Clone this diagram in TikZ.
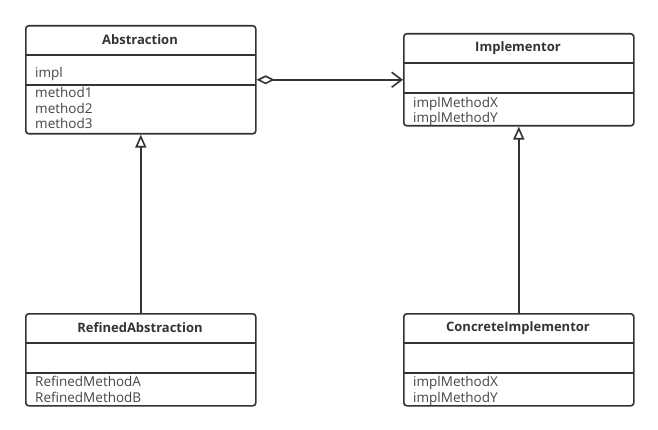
\documentclass[tikz,border=0pt]{standalone}
\usepackage{fontspec}
\setmainfont{Open Sans}
\usetikzlibrary{arrows.meta, positioning}
\definecolor{umlline}{HTML}{333333}
\definecolor{umltext}{HTML}{454545}
\tikzstyle{classbox} = [rectangle, rounded corners=3pt, draw=umlline, line width=1.6pt, minimum width=230pt, anchor=north west, inner sep=0pt]
\tikzstyle{title} = [font=\bfseries\fontsize{13}{15}\selectfont, text=umlline]
\tikzstyle{member} = [anchor=base west, align=left, inner sep=0pt, font=\fontsize{13.5}{15.5}\selectfont, text=umltext]
\tikzstyle{sep} = [draw=umlline, line width=1.6pt]
\tikzstyle{aggr} = [line width=1.6pt, draw=umlline, {Diamond[open,length=18pt,width=9pt]}-{Straight Barb[length=10pt,width=15pt]}]
\tikzstyle{inherit} = [line width=1.6pt, draw=umlline, -{Triangle[open,length=13pt,width=11pt]}]

\begin{document}
\begin{tikzpicture}[x=1pt, y=-1pt]
	\useasboundingbox (0,0) rectangle (658,430);

	\node (abs) [classbox, minimum height=108pt] at (25,25) {};
	\node (impl) [classbox, minimum height=92pt] at (403,33) {};
	\node (refabs) [classbox, minimum height=92pt] at (25,313) {};
	\node (concimpl) [classbox, minimum height=92pt] at (403,313) {};

	\draw [sep] (abs.north west) ++(0,30) -- ++(230,0);
	\draw [sep] (abs.north west) ++(0,60) -- ++(230,0);
	\draw [sep] (impl.north west) ++(0,30) -- ++(230,0);
	\draw [sep] (impl.north west) ++(0,60) -- ++(230,0);
	\draw [sep] (refabs.north west) ++(0,30) -- ++(230,0);
	\draw [sep] (refabs.north west) ++(0,60) -- ++(230,0);
	\draw [sep] (concimpl.north west) ++(0,30) -- ++(230,0);
	\draw [sep] (concimpl.north west) ++(0,60) -- ++(230,0);

	% base anchor sits on the last line
	\node (abstitle) [title] at (140,40) {Abstraction};
	\node (absattr) [member] at (35,78) {impl};
	\node (absops) [member] at (35,129) {method1\\method2\\method3};

	\node (impltitle) [title] at (518,48) {Implementor};
	\node (implops) [member] at (413,123) {implMethodX\\implMethodY};

	\node (refabstitle) [title] at (140,328) {RefinedAbstraction};
	\node (refabsops) [member] at (35,402) {RefinedMethodA\\RefinedMethodB};

	\node (concimpltitle) [title] at (518,328) {ConcreteImplementor};
	\node (concimplops) [member] at (413,402) {implMethodX\\implMethodY};

	\draw [aggr] (abs) -- (impl);
	\draw [inherit] (refabs) -- (abs);
	\draw [inherit] (concimpl) -- (impl);
\end{tikzpicture}
\end{document}
